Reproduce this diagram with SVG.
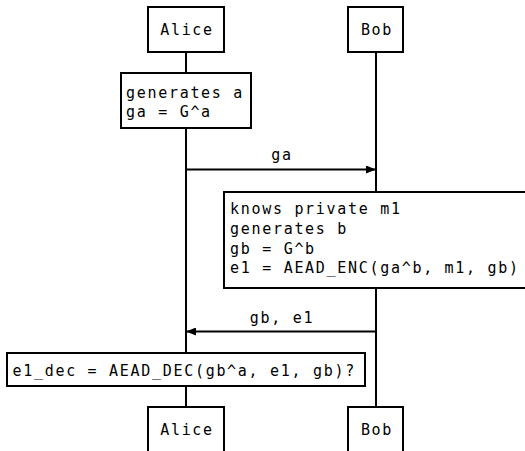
<svg xmlns="http://www.w3.org/2000/svg" width="525" height="451" viewBox="0 0 525 451">
<style>
.box{fill:#fff;stroke:#000;stroke-width:2}
.life{stroke:#000;stroke-width:2;fill:none}
.msg{stroke:#000;stroke-width:2;fill:none}
text{font-family:"DejaVu Sans Mono","Liberation Mono",monospace;font-size:15px;letter-spacing:1.7px;fill:#000}
.c{text-anchor:middle}
</style>
<defs>
<marker id="ah" markerWidth="10" markerHeight="8" refX="10" refY="4" orient="auto" markerUnits="userSpaceOnUse">
<path d="M0,0 L10,4 L0,8 Z" fill="#000"/>
</marker>
</defs>
<g id="lifelines">
<line class="life" x1="186" y1="52" x2="186" y2="407"/>
<line class="life" x1="376" y1="52" x2="376" y2="407"/>
</g>
<g id="alice-top"><rect class="box" x="148" y="7" width="76" height="45"/><text class="c" x="187" y="35">Alice</text></g>
<g id="bob-top"><rect class="box" x="348" y="7" width="55" height="45"/><text class="c" x="377" y="35">Bob</text></g>
<g id="note1"><rect class="box" x="121" y="73" width="130" height="55"/><text x="126" y="97.5">generates a</text><text x="126" y="117">ga = G^a</text></g>
<g id="note2"><rect class="box" x="224" y="192" width="310" height="96"/><text x="230" y="214">knows private m1</text><text x="230" y="233.5">generates b</text><text x="230" y="253.5">gb = G^b</text><text x="230" y="273">e1 = AEAD_ENC(ga^b, m1, gb)</text></g>
<g id="note3"><rect class="box" x="7" y="353" width="358" height="33"/><text x="12.5" y="376">e1_dec = AEAD_DEC(gb^a, e1, gb)?</text></g>
<g id="alice-bottom"><rect class="box" x="148" y="407" width="76" height="45"/><text class="c" x="187" y="435">Alice</text></g>
<g id="bob-bottom"><rect class="box" x="348" y="407" width="55" height="45"/><text class="c" x="377" y="435">Bob</text></g>
<g id="connectors">
<line class="msg" x1="186" y1="169.5" x2="376" y2="169.5" marker-end="url(#ah)"/>
<text class="c" x="282" y="160">ga</text>
<line class="msg" x1="376" y1="331.5" x2="186" y2="331.5" marker-end="url(#ah)"/>
<text class="c" x="282" y="323">gb, e1</text>
</g>
</svg>
